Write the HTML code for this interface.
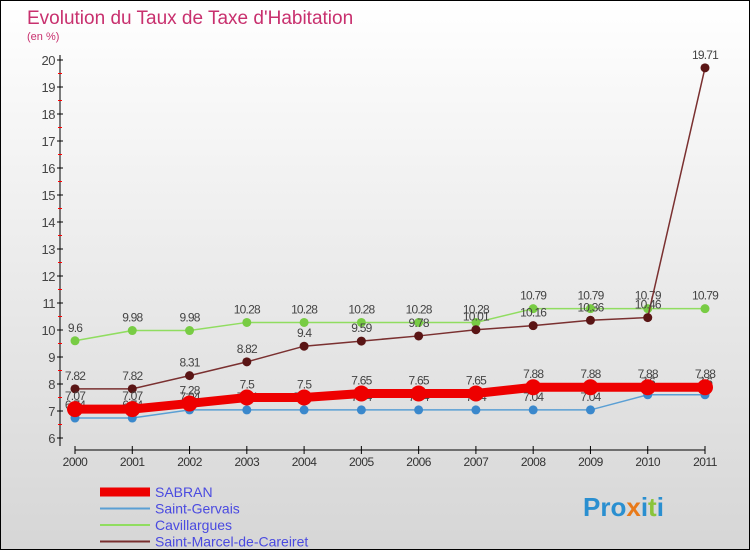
<!DOCTYPE html>
<html><head><meta charset="utf-8"><style>
body{margin:0;width:750px;height:550px;overflow:hidden;font-family:"Liberation Sans",sans-serif}
</style></head><body>
<svg id="c" width="750" height="550" xmlns="http://www.w3.org/2000/svg">
<defs><linearGradient id="bg" x1="0" y1="0" x2="0" y2="1"><stop offset="0" stop-color="#ffffff"/><stop offset="1" stop-color="#d6d6d6"/></linearGradient></defs>
<rect x="0.5" y="0.5" width="749" height="549" fill="url(#bg)" stroke="#000"/>
<text x="27" y="24" font-size="19" fill="#c8306e">Evolution du Taux de Taxe d'Habitation</text>
<text x="27" y="40" font-size="11" fill="#c8306e">(en %)</text>
<g id="axes"></g><g id="series"></g><g id="legend"></g>
<text x="583" y="516" font-size="26" font-weight="bold" fill="#2a8fd0">Pro<tspan fill="#e87a1a">x</tspan>i<tspan fill="#8ac43a">t</tspan>i</text>
</svg>
<script>
const years=[2000,2001,2002,2003,2004,2005,2006,2007,2008,2009,2010,2011];
const yTicks=[6,7,8,9,10,11,12,13,14,15,16,17,18,19,20];
const sabran=[7.07,7.07,7.28,7.5,7.5,7.65,7.65,7.65,7.88,7.88,7.88,7.88];
const stGervais=[6.74,6.74,7.04,7.04,7.04,7.04,7.04,7.04,7.04,7.04,7.6,7.6];
const cavillargues=[9.6,9.98,9.98,10.28,10.28,10.28,10.28,10.28,10.79,10.79,10.79,10.79];
const stMarcel=[7.82,7.82,8.31,8.82,9.4,9.59,9.78,10.01,10.16,10.36,10.46,19.71];
const names=["SABRAN","Saint-Gervais","Cavillargues","Saint-Marcel-de-Careiret"];
const NS="http://www.w3.org/2000/svg";
const X=i=>75+i*(630/11);
const Y=v=>438-(v-6)*27;
function mk(t,a,p){const e=document.createElementNS(NS,t);for(const k in a)e.setAttribute(k,a[k]);p.appendChild(e);return e;}
const ax=document.getElementById('axes');
let l=mk('line',{x1:60,y1:55,x2:60,y2:446,stroke:'#000'},ax);


yTicks.forEach(v=>{
 mk('line',{x1:57,y1:Y(v),x2:63,y2:Y(v),stroke:'#000'},ax);
 if(v<20)mk('line',{x1:58,y1:Y(v+0.5),x2:62,y2:Y(v+0.5),stroke:'red'},ax);
 const t=mk('text',{x:55,y:Y(v)+5,'font-size':13,'text-anchor':'end',fill:'#444','letter-spacing':'-0.5'},ax);t.textContent=v;
 
 
});
l=mk('line',{x1:X(0),y1:450,x2:X(11),y2:450,stroke:'#000'},ax);


years.forEach((y,i)=>{
 mk('line',{x1:X(i),y1:446,x2:X(i),y2:454,stroke:'#000'},ax);
 const t=mk('text',{x:X(i),y:466,'font-size':12,'text-anchor':'middle',fill:'#333','letter-spacing':'-0.5'},ax);t.textContent=y;
 
 
});
const sg=document.getElementById('series');
const defs=[[stGervais,'#5a9fd4','#3a88cc',1.5,4.5,'saint-gervais'],[cavillargues,'#90dd60','#78cc44',1.5,4.5,'cavillargues'],[stMarcel,'#7a3030','#5a1515',1.5,4.5,'saint-marcel'],[sabran,'#ee0000','#ee0000',9,8,'sabran']];
defs.forEach(([d,lc,pc,w,r,n])=>{
 const g=mk('g',{},sg);
 
 
 mk('polyline',{points:d.map((v,i)=>X(i)+','+Y(v)).join(' '),fill:'none',stroke:lc,'stroke-width':w},g);
 d.forEach((v,i)=>{
  const c=mk('circle',{cx:X(i),cy:Y(v),r:r,fill:pc},g);
  
  
  const t=mk('text',{x:X(i),y:Y(v)-9,'font-size':12,'text-anchor':'middle',fill:'#444','letter-spacing':'-0.8'},g);t.textContent=v;
 });
});
const lg=document.getElementById('legend');
const lcols=['#ee0000','#5a9fd4','#90dd60','#7a3030'];
names.forEach((n,i)=>{
 const y=492+i*16.5;
 const g=mk('g',{},lg);
 
 
 mk('line',{x1:100,y1:y,x2:150,y2:y,stroke:lcols[i],'stroke-width':i==0?9:2},g);
 const t=mk('text',{x:155,y:y+5,'font-size':14,fill:'#4a4ae0'},g);t.textContent=n;
});
</script>
</body></html>
